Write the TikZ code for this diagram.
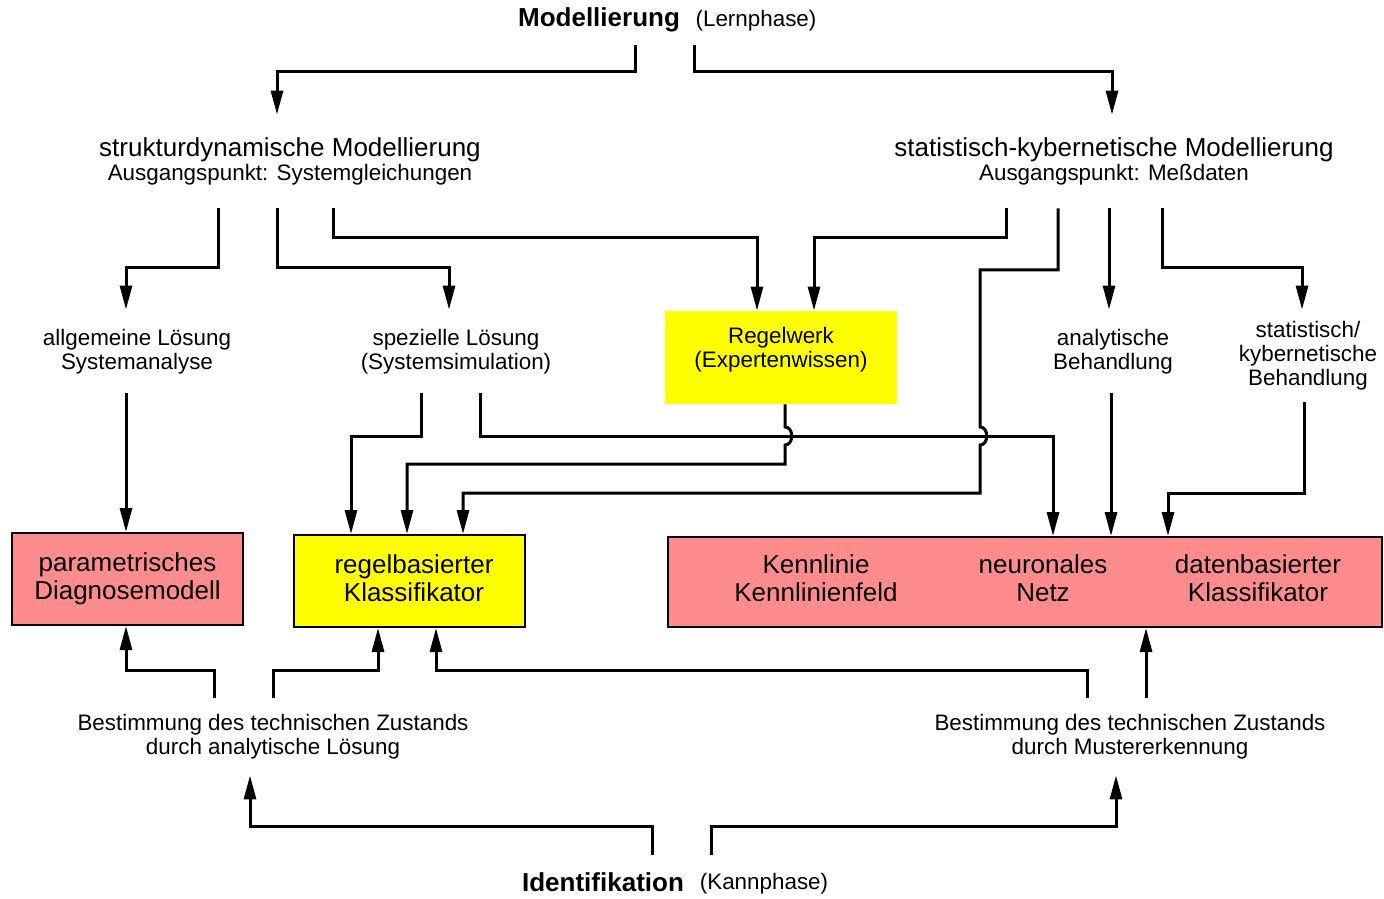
\documentclass[tikz,border=0pt]{standalone}
\usepackage{fontspec}
\setmainfont{Liberation Sans}
\usetikzlibrary{arrows.meta}
\definecolor{gelb}{RGB}{255,255,0}
\definecolor{rosa}{RGB}{255,140,140}
\newcommand{\grosstxt}{\fontsize{13}{14}\selectfont}
\newcommand{\kleintxt}{\fontsize{11.2}{12}\selectfont}

\begin{document}
\begin{tikzpicture}[x=0.5pt,y=-0.5pt,
  conn/.style={line width=1.5pt,-{Triangle[length=12pt,width=6pt]}},
  txt/.style={align=center,inner sep=0pt,font=\kleintxt},
  kasten/.style={draw,line width=1pt,align=center,inner sep=0pt,
    minimum width=115.5pt,minimum height=46pt,font=\grosstxt}]
  \useasboundingbox (0,0) rectangle (1384,898);

  % Phasen
  \node[txt,minimum height=25pt] (modl) at (599,20) {\grosstxt\bfseries Modellierung};
  \node[txt] (lern) at (756,21) {(Lernphase)};
  \node[txt,minimum height=27pt] (ident) at (603,882) {\grosstxt\bfseries Identifikation};
  \node[txt] (kann) at (764,884) {(Kannphase)};

  % Modellierungsarten
  \node[txt,minimum height=46.5pt] (strukt) at (290,161.5)
    {{\grosstxt strukturdynamische Modellierung}\\Ausgangspunkt: Systemgleichungen};
  \node[txt,minimum height=46.5pt] (statk) at (1114,161.5)
    {{\grosstxt statistisch-kybernetische Modellierung}\\Ausgangspunkt: Meßdaten};

  % Loesungswege
  \node[txt,minimum height=41.5pt] (allg) at (137,351.5) {allgemeine Lösung\\Systemanalyse};
  \node[txt,minimum height=41.5pt] (spez) at (456,351.5) {spezielle Lösung\\(Systemsimulation)};
  \node[fill=gelb,minimum width=116pt,minimum height=46.5pt,inner sep=0pt] (regelwerk) at (781,357.5) {};
  \node[txt] (regelwerktxt) at (781,350) {Regelwerk\\(Expertenwissen)};
  \node[txt,minimum height=41.5pt] (anal) at (1113,351.5) {analytische\\Behandlung};
  \node[txt,minimum height=46pt] (statb) at (1308,356) {statistisch/\\kybernetische\\Behandlung};

  % Modelle
  \node[kasten,fill=rosa] (param) at (127.5,579) {parametrisches\\Diagnosemodell};
  \node[kasten,fill=gelb] (regel) at (409.5,581) {};
  \node[txt,font=\grosstxt] (regeltxt) at (414,578) {regelbasierter\\Klassifikator};
  \node[kasten,fill=rosa,minimum width=357pt,minimum height=45pt] (datbox) at (1025,582) {};
  \node[txt,font=\grosstxt] (kenn) at (816,578) {Kennlinie\\Kennlinienfeld};
  \node[txt,font=\grosstxt] (neuro) at (1043,578) {neuronales\\Netz};
  \node[txt,font=\grosstxt] (daten) at (1258,578) {datenbasierter\\Klassifikator};

  % Zustandsbestimmung
  \node[txt,minimum height=38.5pt] (bestA) at (273,736.5)
    {Bestimmung des technischen Zustands\\durch analytische Lösung};
  \node[txt,minimum height=38.5pt] (bestB) at (1130,736.5)
    {Bestimmung des technischen Zustands\\durch Mustererkennung};

  % Verbindungen oben
  \draw[conn] (635,0 |- modl.south) |- (277,72) -- (277,0 |- strukt.north);
  \draw[conn] (694,0 |- modl.south) |- (1112,72) -- (1112,0 |- statk.north);
  \draw[conn] (218,0 |- strukt.south) |- (126,268) -- (126,0 |- allg.north);
  \draw[conn] (277,0 |- strukt.south) |- (449,268) -- (449,0 |- spez.north);
  \draw[conn] (333,0 |- strukt.south) |- (757,238) -- (757,0 |- regelwerk.north);
  \draw[conn] (1006,0 |- statk.south) |- (814,238) -- (814,0 |- regelwerk.north);
  \draw[conn] (1058,0 |- statk.south) |- (980,270) -- (980,427)
    .. controls +(9,0) and +(9,0) .. (980,445) |- (463,493) -- (463,0 |- regel.north);
  \draw[conn] (1109,0 |- statk.south) -- (1109,0 |- anal.north);
  \draw[conn] (1162,0 |- statk.south) |- (1302,268) -- (1302,0 |- statb.north);

  % Verbindungen Mitte
  \draw[conn] (126,0 |- allg.south) -- (126,0 |- param.north);
  \draw[conn] (421,0 |- spez.south) |- (351,436) -- (351,0 |- regel.north);
  \draw[conn] (480,0 |- spez.south) |- (1053,436) -- (1053,0 |- datbox.north);
  \draw[conn] (785,0 |- regelwerk.south) -- (785,427)
    .. controls +(9,0) and +(9,0) .. (785,445) |- (407,464) -- (407,0 |- regel.north);
  \draw[conn] (1111,0 |- anal.south) -- (1111,0 |- datbox.north);
  \draw[conn] (1304,0 |- statb.south) |- (1168,493) -- (1168,0 |- datbox.north);

  % Verbindungen unten
  \draw[conn] (214,0 |- bestA.north) |- (126,670) -- (126,0 |- param.south);
  \draw[conn] (273,0 |- bestA.north) |- (378,670) -- (378,0 |- regel.south);
  \draw[conn] (1087,0 |- bestB.north) |- (436,670) -- (436,0 |- regel.south);
  \draw[conn] (1146,0 |- bestB.north) -- (1146,0 |- datbox.south);
  \draw[conn] (652,0 |- ident.north) |- (250,826) -- (250,0 |- bestA.south);
  \draw[conn] (711,0 |- ident.north) |- (1116,826) -- (1116,0 |- bestB.south);
\end{tikzpicture}
\end{document}
